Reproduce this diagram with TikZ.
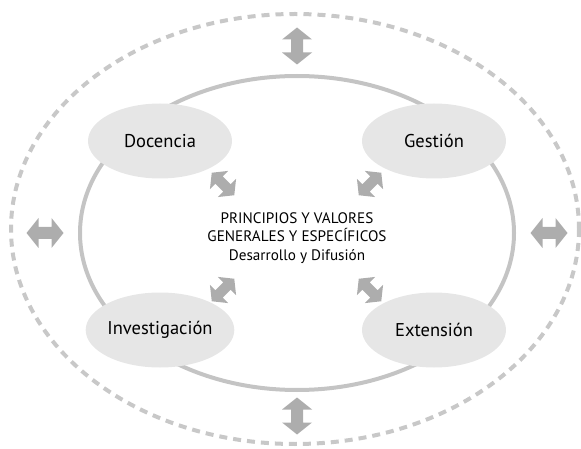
\documentclass[tikz,border=0pt]{standalone}
\usepackage{fontspec}
\setmainfont{PT Sans}
\usetikzlibrary{shapes.geometric,positioning}
\definecolor{ringgray}{HTML}{C4C4C4}
\definecolor{dashgray}{HTML}{C8C8C8}
\definecolor{arrowgray}{HTML}{ADADAD}
\definecolor{blobgray}{HTML}{E6E6E6}
\tikzset{area/.style={ellipse, fill=blobgray, minimum width=144pt, minimum height=75pt, inner sep=0pt, font=\fontsize{18.5}{21}\selectfont}}
\tikzset{twoway/.style={fill=arrowgray}}

\begin{document}
\begin{tikzpicture}[x=1pt,y=-1pt]
  \useasboundingbox (0,0) rectangle (581,449);

  % rings
  \draw[dashgray, line width=4pt, dash pattern=on 8pt off 6pt] (295,229) ellipse [x radius=284, y radius=215];
  \draw[ringgray, line width=4pt] (297,233) ellipse [x radius=217, y radius=157];

  \node[area] (doc) at (160,141) {Docencia};
  \node[area] (ges) at (434,141) {Gestión};
  \node[area] (inv) at (160,330) {Investigación};
  \node[area] (ext) at (434,330) {Extensión};

  \node[align=center, font=\fontsize{15.2}{18.8}\selectfont] (centro) at (297,238)
    {PRINCIPIOS Y VALORES\\GENERALES Y ESPECÍFICOS\\Desarrollo y Difusión};

  % double arrows
  \foreach \px/\py/\ang/\sz in {297/46/90/1, 297/416/90/1, 45/233/0/1, 549/233/0/1,
                                223/184/-45/0.86, 370/290/-45/0.86, 370/184/45/0.86, 223/290/45/0.86}{
    \fill[twoway, shift={(\px,\py)}, rotate=\ang, scale=\sz]
      (-18.5,0) -- (-6.5,15) -- (-6.5,6) -- (6.5,6) -- (6.5,15) -- (18.5,0)
      -- (6.5,-15) -- (6.5,-6) -- (-6.5,-6) -- (-6.5,-15) -- cycle;
  };
\end{tikzpicture}
\end{document}
